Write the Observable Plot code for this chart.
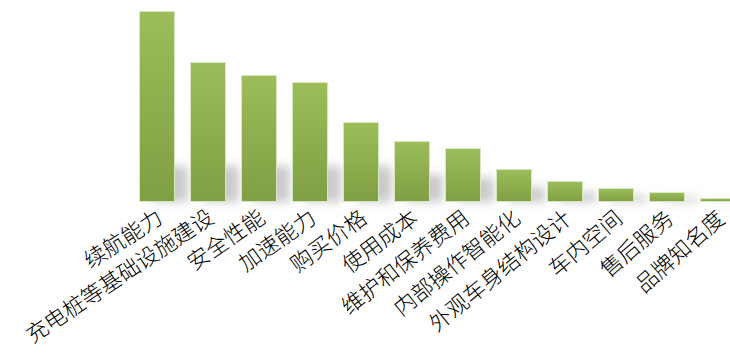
<!DOCTYPE html>
<html>
<head>
<meta charset="utf-8">
<script src="https://cdn.jsdelivr.net/npm/d3@7"></script>
<script src="https://cdn.jsdelivr.net/npm/@observablehq/plot@0.6"></script>
<style>
  html, body { margin: 0; padding: 0; background: #fff; overflow: hidden; }
  #chart svg { display: block; }
</style>
</head>
<body>
<div id="chart"></div>
<script>
const categories = ["续航能力", "充电桩等基础设施建设", "安全性能", "加速能力", "购买价格", "使用成本",
  "维护和保养费用", "内部操作智能化", "外观车身结构设计", "车内空间", "售后服务", "品牌知名度"];
const values = [191, 140, 127, 120, 80, 61, 54, 33, 21, 14, 10, 4];

const data = categories.map((name, i) => ({name, value: values[i]}));

const plot = Plot.plot({
  width: 730,
  height: 354,
  marginTop: 11,
  marginBottom: 152,
  marginLeft: 0,
  marginRight: 0,
  style: {background: "#fff", fontFamily: "'Noto Sans CJK SC', sans-serif"},
  x: {domain: categories, range: [129.3, 746.1], paddingInner: 0.3, paddingOuter: 0.15, axis: null},
  y: {domain: [0, d3.max(values)], axis: null},
  marks: [
    Plot.barY(data, {x: "name", y: d => Math.min(d.value * 0.45, 36), fill: "#8a8a8a", fillOpacity: 0.45, dx: 13}),
    Plot.barY(data, {x: "name", y: "value", fill: "url(#barGrad)", stroke: "#d9e6c2", strokeWidth: 1, inset: 0.5}),
    Plot.text(data, {
      x: "name", text: "name", frameAnchor: "bottom",
      dx: 3, dy: 13, textAnchor: "end", lineAnchor: "middle",
      rotate: (d, i) => -(33 + 0.8 * i), fontSize: 22, fontWeight: 300, fill: "#000"
    })
  ]
});

const svg = d3.select(plot);
const defs = svg.insert("defs", ":first-child");
const g = defs.append("linearGradient").attr("id", "barGrad").attr("x1", 0).attr("y1", 0).attr("x2", 0).attr("y2", 1);
g.append("stop").attr("offset", "0%").attr("stop-color", "#9cbd5a");
g.append("stop").attr("offset", "100%").attr("stop-color", "#7f9f43");
const f = defs.append("filter").attr("id", "shadowBlur").attr("x", "-50%").attr("y", "-50%").attr("width", "200%").attr("height", "200%");
f.append("feGaussianBlur").attr("stdDeviation", 5);
svg.select("g[aria-label='bar']").attr("filter", "url(#shadowBlur)");

document.getElementById("chart").appendChild(plot);
</script>
</body>
</html>
